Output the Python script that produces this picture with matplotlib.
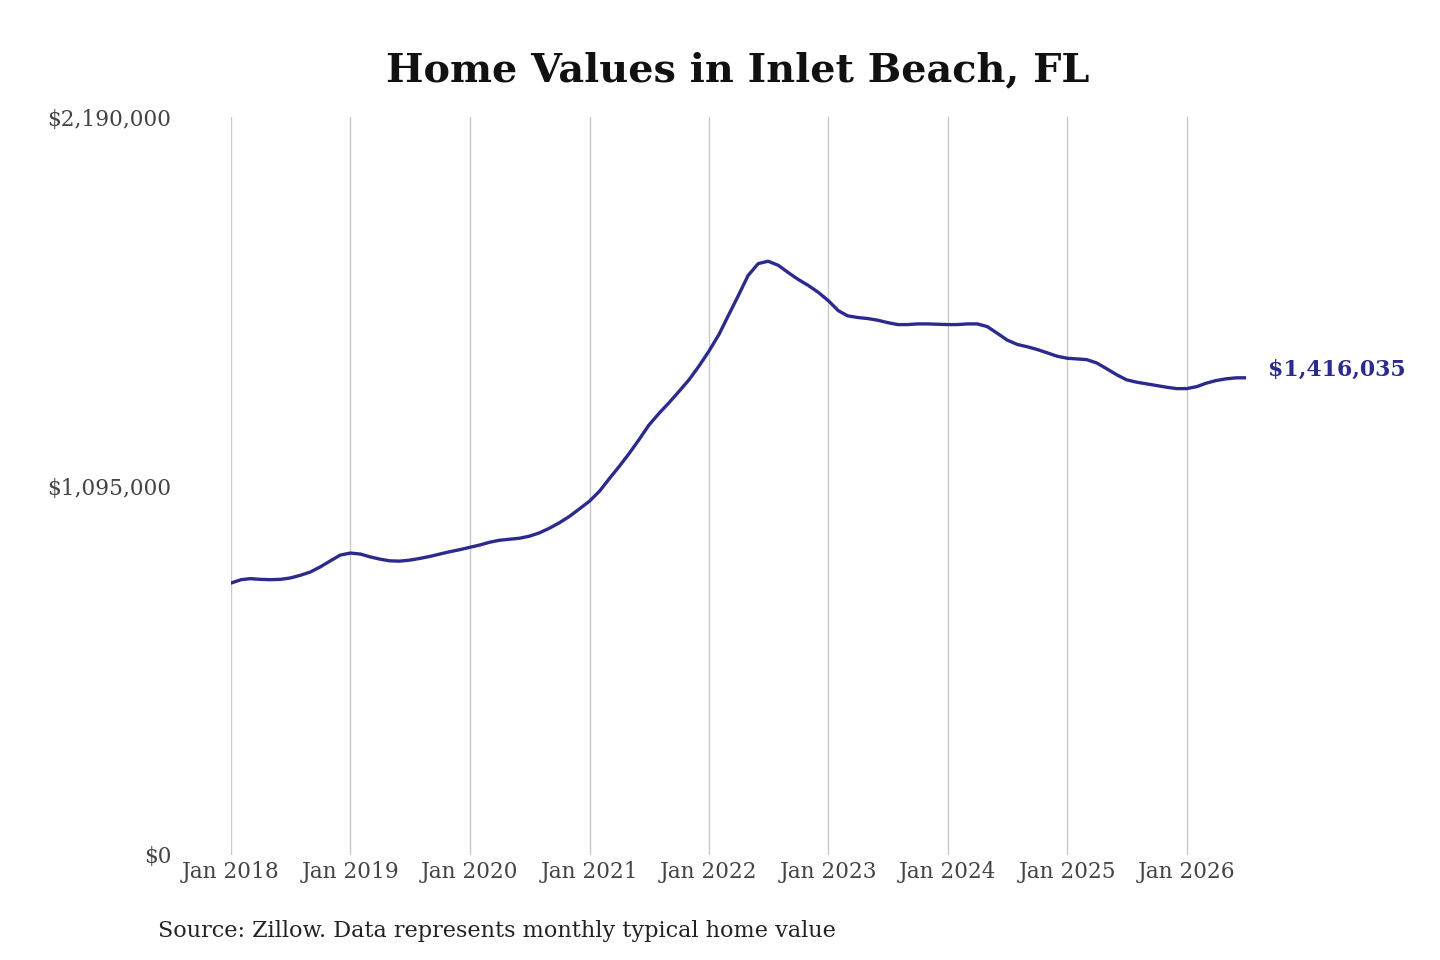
import matplotlib
matplotlib.use("Agg")
import matplotlib.pyplot as plt
import numpy as np
import pandas as pd
from matplotlib.ticker import FuncFormatter

# ---- data (monthly typical home value, thousands of $) ----
start_month = "2018-01-01"
values_k = [
    807, 817, 820, 818, 817, 818, 822, 830, 840, 855, 873, 890,          # 2018
    896, 893, 885, 878, 873, 872, 875, 880, 886, 893, 900, 906,          # 2019
    913, 920, 928, 934, 937, 940, 946, 956, 970, 986, 1005, 1027,        # 2020
    1050, 1080, 1115, 1152, 1190, 1232, 1275, 1310, 1342, 1375, 1410, 1450,  # 2021
    1495, 1545, 1600, 1660, 1720, 1755, 1762, 1750, 1728, 1708, 1690, 1670,  # 2022
    1645, 1615, 1600, 1595, 1592, 1587, 1580, 1574, 1574, 1576, 1576, 1575,  # 2023
    1574, 1574, 1576, 1576, 1568, 1548, 1528, 1515, 1508, 1500, 1490, 1480,  # 2024
    1474, 1472, 1470, 1460, 1443, 1425, 1410, 1403, 1398, 1393, 1388, 1384,  # 2025
    1384, 1390, 1400, 1408, 1413, 1416, 1416.035,                       # 2026
]
y_ticks = [0, 1095000, 2190000]
x_tick_years = list(range(2018, 2027))
title = "Home Values in Inlet Beach, FL"
source = "Source: Zillow. Data represents monthly typical home value"
end_label = "$1,416,035"

dates = pd.date_range(start_month, periods=len(values_k), freq="MS")
values = np.array(values_k) * 1000

LINE = "#2d2a8e"
TXT = "#444444"

fig = plt.figure(figsize=(14.4, 9.6), dpi=100)
ax = fig.add_axes([231/1440, 1-855/960, (1246-231)/1440, (855-117)/960])

ax.plot(dates, values, color=LINE, lw=2.4, solid_capstyle="round",
        solid_joinstyle="round", zorder=3)

ax.set_xlim(dates[0], dates[-1])
ax.set_ylim(0, 2190000)
ax.set_yticks(y_ticks)
ax.yaxis.set_major_formatter(FuncFormatter(lambda v, p: f"${v:,.0f}"))
ax.set_xticks([pd.Timestamp(f"{y}-01-01") for y in x_tick_years])
ax.set_xticklabels([f"Jan {y}" for y in x_tick_years])

ax.grid(axis="x", color="#c8c8c8", lw=1.0)
ax.grid(axis="y", visible=False)
for s in ax.spines.values():
    s.set_visible(False)
ax.tick_params(axis="both", length=0)
ax.tick_params(axis="y", pad=43)
ax.tick_params(axis="x", pad=4)
for lab in ax.get_yticklabels() + ax.get_xticklabels():
    lab.set_fontfamily("DejaVu Serif")
    lab.set_fontsize(15.6)
    lab.set_color(TXT)

ax.annotate(end_label, xy=(dates[-1], values[-1]), xytext=(16, 6),
            textcoords="offset points", ha="left", va="center",
            fontsize=15.8, fontweight="bold", color=LINE, family="DejaVu Serif")

fig.text(738/1440, 1-70/960, title, ha="center", va="center",
         fontsize=28.6, fontweight="bold", family="DejaVu Serif", color="#111111")
fig.text(158/1440, 1-931/960, source, ha="left", va="center",
         fontsize=16.1, color="#222222", family="DejaVu Serif")

fig.savefig("out.png", dpi=100, facecolor="white")
